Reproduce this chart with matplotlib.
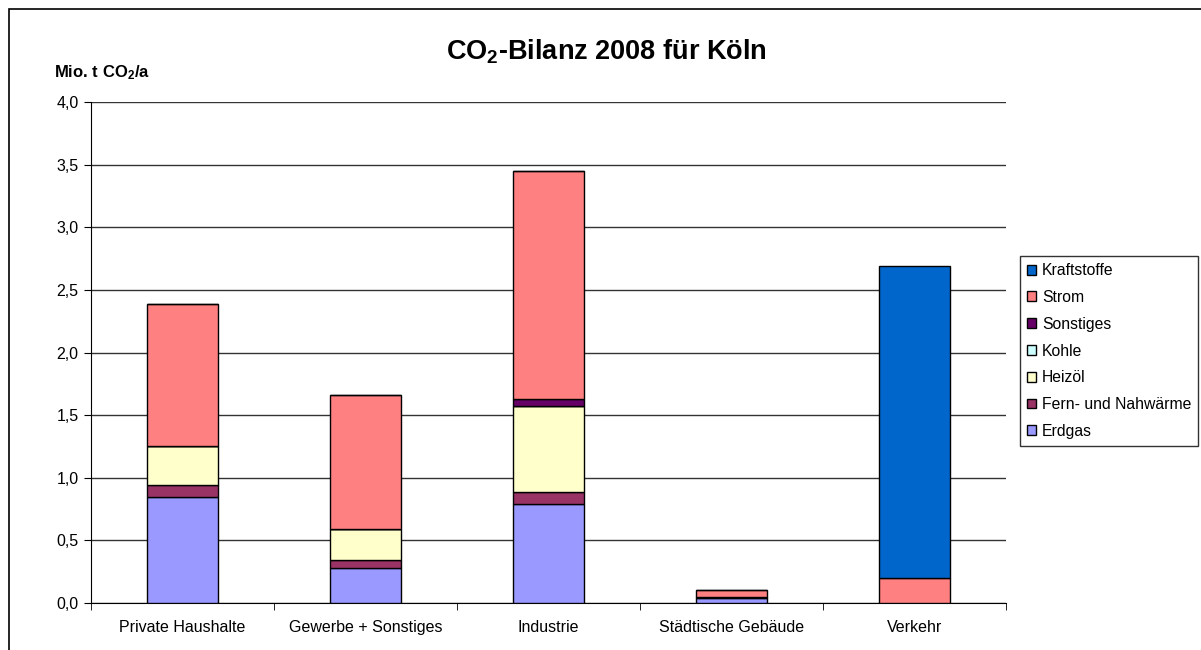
import matplotlib
matplotlib.use("Agg")
import matplotlib.pyplot as plt
import matplotlib.patches as patches
import numpy as np

plt.rcParams['font.family'] = ['Liberation Sans', 'DejaVu Sans']
plt.rcParams['mathtext.fontset'] = 'custom'
plt.rcParams['mathtext.rm'] = 'Liberation Sans'
plt.rcParams['mathtext.bf'] = 'Liberation Sans:bold'

categories = ["Private Haushalte", "Gewerbe + Sonstiges", "Industrie", "Städtische Gebäude", "Verkehr"]
series_names = ["Erdgas", "Fern- und Nahwärme", "Heizöl", "Kohle", "Sonstiges", "Strom", "Kraftstoffe"]
erdgas = [0.85, 0.28, 0.79, 0.04, 0.0]
fernwaerme = [0.09, 0.06, 0.10, 0.01, 0.0]
heizoel = [0.31, 0.25, 0.68, 0.0, 0.0]
kohle = [0.0, 0.0, 0.0, 0.0, 0.0]
sonstiges = [0.0, 0.0, 0.06, 0.0, 0.0]
strom = [1.14, 1.07, 1.82, 0.05, 0.20]
kraftstoffe = [0.0, 0.0, 0.0, 0.0, 2.49]
colors = ["#9999FF", "#993366", "#FFFFCC", "#CCFFFF", "#660066", "#FF8080", "#0066CC"]
yticks = [0.0, 0.5, 1.0, 1.5, 2.0, 2.5, 3.0, 3.5, 4.0]

series = [erdgas, fernwaerme, heizoel, kohle, sonstiges, strom, kraftstoffe]

fig = plt.figure(figsize=(12.01, 6.5), dpi=100)
ax = fig.add_axes([0.0758, 0.0723, 0.7618, 0.7707])

# outer frame of the chart area (runs off the right and bottom edge)
frame = patches.Rectangle((9 / 1201, -0.05), 1.1, 1.05 - 9 / 650, transform=fig.transFigure,
                          fill=False, edgecolor='black', linewidth=1.2)
fig.patches.append(frame)

x = np.arange(len(categories))
bottom = np.zeros(len(categories))
handles = []
for name, vals, col in zip(series_names, series, colors):
    vals = np.array(vals)
    b = ax.bar(x, vals, width=0.39, bottom=bottom, color=col, edgecolor='black',
               linewidth=1, label=name, zorder=3)
    handles.append(b)
    bottom += vals

ax.set_xlim(-0.5, len(categories) - 0.5)
ax.set_ylim(0, 4.0)
ax.set_yticks(yticks)
ax.set_yticklabels([f"{v:.1f}".replace('.', ',') for v in yticks], fontsize=11.5)
ax.yaxis.grid(True, color='#333333', linewidth=1, zorder=0)
ax.set_axisbelow(True)

ax.set_xticks(x)
ax.set_xticklabels(categories, fontsize=11.5)
ax.tick_params(axis='x', length=0, pad=12)
ax.set_xticks(np.arange(len(categories) + 1) - 0.5, minor=True)
ax.tick_params(axis='x', which='minor', length=5, direction='out')
ax.tick_params(axis='y', length=5, direction='out', pad=4)

for s in ['top', 'right']:
    ax.spines[s].set_visible(False)
ax.spines['left'].set_color('black')
ax.spines['bottom'].set_color('black')

fig.text(0.505, 0.921, r'$\mathbf{CO_2}$-Bilanz 2008 für Köln', ha='center', va='center',
         fontsize=19.5, fontweight='bold')
fig.text(54 / 1201, 1 - 73 / 650, r'Mio. t $\mathbf{CO_2}$/a', ha='left', va='center',
         fontsize=12, fontweight='bold')

leg = ax.legend(handles[::-1], series_names[::-1], loc='center left',
                bbox_to_anchor=(1020 / 1201, 1 - 351 / 650), bbox_transform=fig.transFigure,
                fontsize=11.3, frameon=True, fancybox=False, edgecolor='black',
                handlelength=0.6, handleheight=0.6, handletextpad=0.35,
                labelspacing=0.75, borderpad=0.45, borderaxespad=0)
leg.get_frame().set_linewidth(1)

fig.savefig("out.png", dpi=100)
